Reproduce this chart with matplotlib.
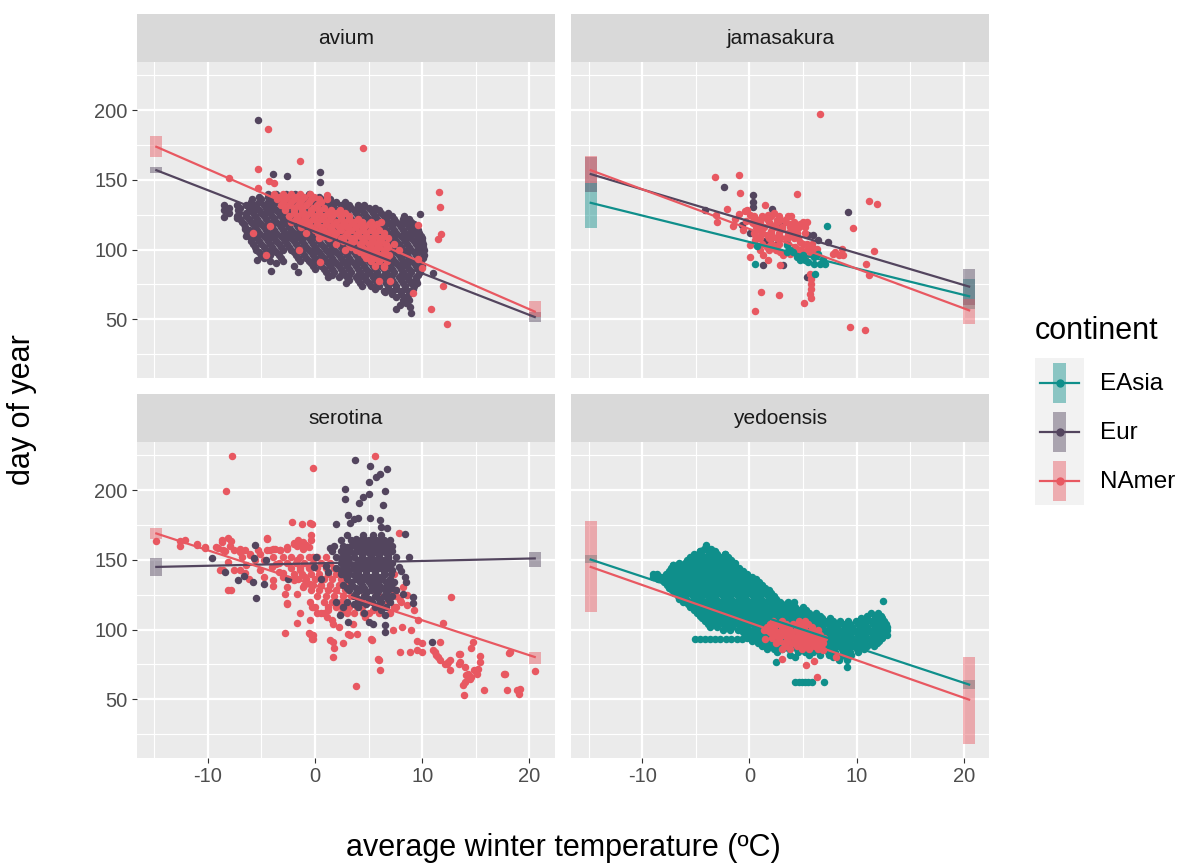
import matplotlib
matplotlib.use("Agg")
import matplotlib.pyplot as plt
from matplotlib.patches import Rectangle

plt.rcParams['font.family'] = ['Liberation Sans', 'DejaVu Sans']
plt.rcParams['axes.unicode_minus'] = False

# ---- datos ----
species = ['avium', 'jamasakura', 'serotina', 'yedoensis']
continents = ['EAsia', 'Eur', 'NAmer']
colors = {'EAsia': '#0f8f8b', 'Eur': '#53455e', 'NAmer': '#e85861'}

x_ticks = [-10, 0, 10, 20]
y_ticks = [50, 100, 150, 200]

# dense parts of the clouds: y -> x values
avium_eur_rows = {
    140: [-4.4, -3.6, -2.7, -1.9, -0.6],
    138: [-5.2, -4.4, -3.6, -2.8, -2.0, -1.2, -0.4, 0.4],
    136: [-5.9, -5.0, -4.2, -3.4, -2.6, -1.8, -1.0, -0.2, 0.6, 1.4],
    134: [-6.0, -5.2, -4.4, -3.6, -2.8, -2.0, -1.2, -0.4, 0.4, 1.2, 2.0, 2.8],
    132: [-8.5, -7.3, -6.4, -5.6, -4.8, -4.0, -3.2, -2.4, -1.6, -0.8, 0.0, 0.8, 1.6, 2.4, 3.2, 4.0, 4.6],
    130: [-8.0, -7.0, -6.2, -5.4, -4.6, -3.8, -3.0, -2.2, -1.4, -0.6, 0.2, 1.0, 1.8, 2.6, 3.4, 4.2, 5.0, 5.6],
    128: [-8.5, -7.2, -6.0, -5.2, -4.4, -3.6, -2.8, -2.0, -1.2, -0.4, 0.4, 1.2, 2.0, 2.8, 3.6, 4.4, 5.2, 6.0],
    126: [-8.0, -7.1, -6.4, -5.8, -5.0, -4.2, -3.4, -2.6, -1.8, -1.0, -0.2, 0.6, 1.4, 2.2, 3.0, 3.8, 4.6, 5.4,
          6.2, 6.8],
    124: [-7.3, -6.4, -5.6, -4.8, -4.0, -3.2, -2.4, -1.6, -0.8, 0.0, 0.8, 1.6, 2.4, 3.2, 4.0, 4.8, 5.6, 6.4, 7.2, 8.3],
    122: [-7.0, -6.2, -5.4, -4.6, -3.8, -3.0, -2.2, -1.4, -0.6, 0.2, 1.0, 1.8, 2.6, 3.4, 4.2, 5.0, 5.8, 6.6, 7.4,
          8.2, 8.8],
    120: [-6.8, -6.0, -5.2, -4.4, -3.6, -2.8, -2.0, -1.2, -0.4, 0.4, 1.2, 2.0, 2.8, 3.6, 4.4, 5.2, 6.0, 6.8, 7.6,
          8.4, 9.0],
    118: [-6.6, -5.8, -5.0, -4.2, -3.4, -2.6, -1.8, -1.0, -0.2, 0.6, 1.4, 2.2, 3.0, 3.8, 4.6, 5.4, 6.2, 7.0, 7.8,
          8.6, 9.2],
    116: [-6.5, -5.6, -4.8, -4.0, -3.2, -2.4, -1.6, -0.8, 0.0, 0.8, 1.6, 2.4, 3.2, 4.0, 4.8, 5.6, 6.4, 7.2, 8.0,
          8.8, 9.4],
    114: [-6.2, -5.4, -4.6, -3.8, -3.0, -2.2, -1.4, -0.6, 0.2, 1.0, 1.8, 2.6, 3.4, 4.2, 5.0, 5.8, 6.6, 7.4, 8.2,
          9.0, 9.6],
    112: [-6.3, -5.2, -4.4, -3.6, -2.8, -2.0, -1.2, -0.4, 0.4, 1.2, 2.0, 2.8, 3.6, 4.4, 5.2, 6.0, 6.8, 7.6, 8.4,
          9.1, 9.7],
    110: [-6.4, -5.6, -4.8, -4.0, -3.2, -2.4, -1.6, -0.8, 0.0, 0.8, 1.6, 2.4, 3.2, 4.0, 4.8, 5.6, 6.4, 7.2, 8.0,
          8.8, 9.6, 9.9],
    108: [-6.0, -5.4, -4.6, -3.8, -3.0, -2.2, -1.4, -0.6, 0.2, 1.0, 1.8, 2.6, 3.4, 4.2, 5.0, 5.8, 6.6, 7.4, 8.2,
          9.0, 9.7, 10.0],
    106: [-6.0, -5.2, -4.4, -3.6, -2.8, -2.0, -1.2, -0.4, 0.4, 1.2, 2.0, 2.8, 3.6, 4.4, 5.2, 6.0, 6.8, 7.6, 8.4,
          9.2, 10.0],
    104: [-5.8, -5.0, -4.2, -3.4, -2.6, -1.8, -1.0, -0.2, 0.6, 1.4, 2.2, 3.0, 3.8, 4.6, 5.4, 6.2, 7.0, 7.8, 8.6,
          9.4, 10.1],
    102: [-5.6, -4.8, -4.0, -3.2, -2.4, -1.6, -0.8, 0.0, 0.8, 1.6, 2.4, 3.2, 4.0, 4.8, 5.6, 6.4, 7.2, 8.0, 8.8,
          9.6, 10.1],
    100: [-5.5, -4.6, -3.8, -3.0, -2.2, -1.4, -0.6, 0.2, 1.0, 1.8, 2.6, 3.4, 4.2, 5.0, 5.8, 6.6, 7.4, 8.2, 9.0,
          9.7, 10.2],
    98: [-5.2, -4.4, -3.6, -2.0, -1.2, -0.4, 0.4, 1.2, 2.0, 2.8, 3.6, 4.4, 5.2, 6.0, 6.8, 7.6, 8.4, 9.2, 10.0],
    96: [-5.0, -4.2, -3.4, -1.8, -1.0, -0.2, 0.6, 1.4, 2.2, 3.0, 3.8, 4.6, 5.4, 6.2, 7.0, 7.8, 8.6, 9.4, 10.2],
    94: [-4.8, -3.2, -1.6, -0.8, 0.0, 0.8, 1.6, 2.4, 3.2, 4.0, 4.8, 5.6, 6.4, 7.2, 8.0, 8.8, 9.6, 10.1],
    92: [-4.2, -3.0, -1.4, -0.6, 0.2, 1.0, 1.8, 2.6, 3.4, 4.2, 5.0, 5.8, 6.6, 7.4, 8.2, 9.0, 9.8],
    90: [-3.6, -0.4, 0.4, 1.2, 2.0, 2.8, 3.6, 4.4, 5.2, 6.0, 6.8, 7.6, 8.4, 9.2, 9.9],
    88: [-2.0, -0.2, 0.6, 1.4, 2.2, 3.0, 3.8, 4.6, 5.4, 6.2, 7.0, 7.8, 8.6, 9.4, 10.0],
    86: [0.0, 0.8, 1.6, 2.4, 3.2, 4.0, 4.8, 5.6, 6.4, 7.2, 8.0, 8.8, 9.6],
    84: [-1.6, 1.0, 1.8, 2.6, 3.4, 4.2, 5.0, 5.8, 6.6, 7.4, 8.2, 9.0, 9.8],
    82: [1.6, 2.4, 3.2, 4.0, 4.8, 5.6, 6.4, 7.2, 8.0, 8.8, 9.6],
    80: [1.2, 2.2, 3.0, 3.8, 4.6, 5.4, 6.2, 7.0, 7.8, 8.6, 9.4],
    78: [3.2, 4.0, 4.8, 5.6, 6.4, 7.2, 8.0, 8.8, 9.4],
    76: [2.9, 4.2, 5.0, 5.8, 6.6, 7.4, 8.2, 9.0, 9.5],
    74: [4.4, 5.2, 6.0, 6.8, 7.6, 8.4, 9.2],
    72: [5.6, 6.8, 7.6, 8.4, 9.1],
    70: [6.4, 7.2, 8.0, 8.8],
    68: [7.2, 8.0, 8.8],
    66: [7.6, 8.4],
    64: [8.2, 8.8],
}
avium_eur_pts = [(-5.35, 192.8), (0.47, 155.7), (0.47, 148.6), (-2.6, 152.6), (-3.9, 154.0), (9.8, 125.8),
                 (11.0, 83.5), (7.6, 57.2), (8.9, 58.9), (9.0, 54.5), (6.5, 69.6), (-4.1, 84.4), (-5.4, 92.3),
                 (8.5, 61.5), (7.9, 60.5), (-8.5, 123.5), (-7.3, 122.5), (-6.5, 114.8)]

avium_namer_rows = {
    140: [-3.8, -3.0, -2.2, -1.4, -0.5],
    138: [-3.4, -2.6, -1.8, -1.0, -0.1],
    136: [-3.5, -2.8, -2.0, -1.2, -0.4, 0.4, 1.1],
    134: [-3.0, -2.2, -1.4, -0.6, 0.6],
    132: [-3.2, -2.4, -1.6, -0.8, 0.2],
    130: [-2.8, -2.0, -1.2, -0.2, 0.8],
    128: [-2.8, -2.0, -1.2, -0.4, 0.4, 1.5, 2.3],
    126: [-2.0, -1.2, -0.4, 0.4, 1.2, 2.0, 2.8],
    124: [-2.4, -1.6, -0.8, 0.0, 0.8, 1.6, 2.4, 3.2],
    122: [-1.8, -1.0, -0.2, 0.6, 1.4, 2.4, 3.2, 4.0],
    120: [-2.2, -1.4, -0.6, 0.2, 1.0, 2.0, 2.8, 3.6, 4.4, 5.2, 6.2],
    118: [-0.8, 0.2, 1.0, 1.8, 2.6, 3.4, 4.2, 5.0, 5.8],
    116: [-1.3, -0.4, 0.6, 1.4, 2.2, 3.0, 3.8, 4.6, 5.4],
    114: [0.0, 0.8, 1.6, 2.4, 3.4, 4.4, 5.2, 6.0],
    112: [-0.8, 0.3, 1.2, 2.0, 3.0, 4.0, 4.8, 5.6, 6.4],
    110: [0.8, 1.8, 2.8, 3.8, 4.8, 5.6, 6.4],
    108: [0.4, 1.3, 2.4, 3.4, 4.4, 5.2, 6.0, 6.8],
    106: [2.6, 3.6, 4.6, 5.4, 6.2],
    104: [2.0, 3.2, 4.2, 5.0, 5.8, 6.6],
    102: [3.4, 4.4, 5.2, 6.0, 6.8],
    100: [-1.5, 2.8, 3.8, 4.8, 5.6, 6.4],
    98: [4.2, 5.0, 5.7, 6.5],
    96: [4.6, 5.3, 6.1, 6.9],
    94: [4.8, 5.6, 6.4],
    92: [5.2, 6.0, 6.7],
    88: [5.6, 6.4],
}
avium_namer_pts = [(-4.35, 186.8), (4.5, 173.0), (-1.4, 163.6), (-5.35, 157.7), (-8.0, 151.4), (-5.35, 143.8),
                   (-4.3, 149.0), (-3.8, 147.8), (1.1, 139.0), (11.6, 141.0), (11.7, 130.6), (11.8, 111.0),
                   (11.5, 107.9), (9.6, 117.5), (9.6, 93.5), (9.95, 86.8), (11.9, 74.0), (10.8, 57.7), (9.1, 68.9),
                   (-4.6, 96.0), (-5.8, 111.5), (-4.2, 116.7), (0.5, 91.0), (6.0, 77.5), (7.0, 77.5), (6.4, 87.6),
                   (12.3, 46.4), (7.4, 104.0), (7.8, 100.0)]

jamasakura_eur_pts = [(-2.4, 145.0), (-4.1, 128.2), (0.37, 139.0), (0.37, 130.6), (2.1, 129.4), (-0.7, 117.4),
                      (1.46, 106.2), (1.3, 88.7), (3.17, 88.7), (5.97, 110.3), (7.37, 105.5), (9.2, 126.8),
                      (5.35, 80.4), (3.0, 117.4), (1.9, 106.7), (2.55, 104.3), (5.5, 110.3), (6.4, 106.7),
                      (0.37, 134.2), (0.06, 111.5)]
jamasakura_namer_rows = {
    124: [0.4, 1.2, 2.0, 2.8, 3.6],
    120: [0.2, 1.0, 1.8, 2.6, 3.4, 4.2, 5.0],
    116: [0.6, 1.4, 2.2, 3.0, 3.8, 4.6],
    112: [0.4, 1.2, 2.0, 2.8, 3.6, 4.4, 5.2],
    108: [1.0, 1.8, 2.6, 3.4, 4.2],
    104: [1.2, 2.0, 2.8, 3.6, 5.0, 5.8],
    100: [1.8, 2.6, 4.6, 5.4, 6.2],
}
jamasakura_namer_pts = [(-3.2, 151.7), (-1.0, 153.8), (-0.9, 140.6), (-3.1, 125.1), (-3.0, 119.8), (-1.5, 116.7),
                        (-1.0, 125.8), (-0.4, 127.7), (0.06, 124.6), (0.53, 122.2), (0.84, 121.0), (0.68, 116.2),
                        (1.15, 123.4), (1.62, 122.2), (1.77, 124.6), (1.93, 118.6), (2.4, 116.2), (2.86, 121.0),
                        (3.33, 121.0), (3.8, 118.6), (4.26, 116.2), (4.73, 118.6), (5.35, 119.8), (5.19, 116.2),
                        (4.4, 111.5), (3.8, 110.3), (3.48, 107.9), (2.86, 109.1), (2.24, 109.1), (1.62, 110.3),
                        (1.15, 111.5), (0.53, 110.3), (0.06, 103.1), (1.62, 101.9), (2.24, 103.1), (2.86, 98.3),
                        (3.17, 95.9), (3.8, 97.1), (4.26, 101.9), (4.73, 105.5), (5.35, 104.3), (5.81, 101.9),
                        (5.04, 98.3), (4.73, 93.5), (5.19, 94.7), (5.66, 98.3), (6.28, 100.7), (5.97, 97.1),
                        (0.06, 94.7), (1.3, 95.9), (1.77, 92.3), (2.86, 88.7), (-0.56, 113.9), (-1.34, 122.2),
                        (-2.1, 129.4), (-0.25, 128.2), (1.46, 131.8), (2.55, 121.0), (4.1, 113.9), (5.5, 100.7),
                        (7.8, 97.1), (8.6, 100.7), (8.77, 95.9), (6.6, 196.9), (4.4, 139.7), (11.2, 134.9),
                        (11.9, 132.5), (9.7, 115.8), (11.6, 98.8), (10.9, 89.5), (11.2, 81.6), (9.4, 44.5),
                        (10.8, 42.6), (1.06, 69.6), (2.8, 67.7), (0.5, 56.0), (5.1, 61.7), (5.7, 82.8),
                        (5.72, 79.0), (5.75, 75.4), (5.72, 71.8), (5.7, 68.2), (5.75, 65.0), (8.0, 98.3),
                        (8.4, 96.0), (0.3, 119.0), (1.0, 114.0), (2.0, 113.5), (3.0, 114.5), (3.5, 104.5),
                        (4.5, 108.0), (2.5, 100.0), (1.0, 99.5), (0.5, 106.5), (-0.3, 120.5), (3.9, 124.0),
                        (2.3, 126.5)]
jamasakura_easia_pts = [(7.2, 116.7), (0.68, 102.4), (0.53, 89.9), (3.48, 103.1), (3.8, 99.5), (4.4, 94.7),
                        (5.2, 92.3), (6.0, 94.7), (6.4, 97.1), (6.9, 93.5), (7.06, 89.5), (6.1, 82.8), (5.5, 91.1),
                        (4.7, 92.3), (4.1, 98.3), (6.6, 89.9), (6.0, 89.9), (5.0, 95.9), (3.5, 98.3)]

serotina_eur_rows = {
    168: [3.0, 4.5, 5.4, 6.2],
    165: [3.8, 4.6, 5.4, 6.2],
    164: [2.4, 3.4, 4.3, 5.0, 5.7, 6.4, 7.0],
    163: [3.8, 4.8, 5.6, 6.4],
    162: [4.6, 5.4, 6.2, 6.9],
    160: [1.8, 2.6, 3.4, 4.2, 5.0, 5.8, 6.6, 7.2],
    159: [3.0, 3.8, 4.8, 5.6, 6.4, 7.0],
    158: [4.4, 5.2, 6.0, 6.8],
    156: [1.6, 2.4, 3.2, 4.0, 4.8, 5.6, 6.4, 7.2],
    155: [2.8, 3.6, 5.0, 5.8, 6.6],
    154: [4.4, 5.2, 6.0, 6.8],
    152: [2.0, 2.8, 3.6, 4.4, 5.2, 6.0, 6.8, 7.6],
    151: [2.4, 3.2, 4.4, 5.2, 6.0, 6.8],
    150: [4.0, 4.8, 5.6, 6.4],
    148: [2.4, 3.2, 4.0, 4.8, 5.6, 6.4, 7.2],
    147: [2.8, 4.0, 4.8, 5.6, 6.4, 7.0],
    146: [3.6, 4.4, 5.2, 6.0, 6.8],
    144: [2.0, 2.8, 3.6, 4.4, 5.2, 6.0, 6.8],
    143: [2.4, 3.2, 4.8, 5.6, 6.4, 7.2],
    142: [4.0, 4.8, 5.6, 6.4],
    140: [2.4, 3.2, 4.0, 4.8, 5.6, 6.4, 7.1],
    139: [2.8, 3.6, 4.8, 5.6, 6.4],
    138: [4.4, 5.2, 6.0],
    136: [3.0, 3.8, 4.6, 5.4, 6.2, 7.0],
    134: [3.4, 4.2, 5.0, 5.8, 6.6, 7.4],
    132: [2.6, 3.5, 4.4, 5.2, 6.0, 6.8],
    130: [3.0, 3.8, 4.6, 5.6, 6.4, 7.2],
    128: [3.2, 4.2, 5.2, 6.0, 6.8],
    126: [3.8, 4.8, 5.8, 6.6],
    124: [3.6, 4.6, 5.6, 6.4, 7.2],
    122: [4.0, 5.0, 6.0, 6.8],
    120: [3.0, 4.3, 5.3, 6.2, 7.0],
    118: [3.6, 4.8, 6.0],
    116: [4.0, 5.6, 6.6],
}
serotina_eur_pts = [(3.7, 221.5), (5.1, 217.2), (6.1, 211.5), (6.7, 215.1), (5.7, 209.6), (5.0, 205.5),
                    (2.8, 200.5), (2.8, 193.3), (6.5, 199.3), (4.1, 191.1), (4.5, 195.2), (5.0, 196.9),
                    (6.3, 189.2), (3.1, 182.5), (2.0, 176.0), (3.3, 176.5), (3.6, 179.0), (4.0, 180.1),
                    (5.1, 179.7), (6.1, 178.5), (6.2, 173.7), (6.7, 172.5), (8.4, 168.4), (8.8, 152.1),
                    (2.3, 110.3), (3.1, 105.5), (5.0, 105.5), (5.4, 104.3), (6.5, 110.3), (6.5, 103.1),
                    (6.5, 98.3), (9.1, 123.4), (9.1, 118.7), (8.4, 137.8), (8.5, 134.2), (8.2, 125.8),
                    (10.9, 91.1), (-9.6, 151.4), (-5.6, 160.5), (-5.7, 151.4), (-4.6, 150.2), (-8.4, 141.4),
                    (-7.2, 135.4), (-6.6, 138.2), (-5.8, 134.2), (-4.8, 132.3), (-5.5, 122.7), (-2.5, 136.3),
                    (-0.1, 144.9), (0.1, 152.0), (1.0, 145.5), (1.2, 141.0), (0.6, 136.0), (1.4, 158.5),
                    (2.0, 120.0), (2.6, 116.0), (4.6, 112.0), (6.2, 114.0), (7.6, 128.0), (7.8, 145.0),
                    (8.0, 142.0)]

serotina_namer_rows = {
    152: [-3.0, -2.2, -1.4, -0.6, 0.2, 1.0],
    148: [-3.4, -2.6, -1.8, -1.0, -0.2, 0.6, 1.4],
    144: [-2.2, -1.4, -0.6, 0.2, 1.0, 1.8],
    140: [-2.0, -1.2, -0.4, 0.4, 1.2, 2.0],
    136: [-1.6, -0.8, 0.0, 0.8, 1.6, 2.4],
    132: [-1.0, -0.2, 0.6, 1.4, 2.2, 3.0],
    128: [-0.4, 0.4, 1.2, 2.0, 2.8, 4.0, 5.6, 7.2],
    124: [0.2, 1.0, 1.8, 2.6, 3.4, 4.6, 6.0, 7.6],
    120: [-0.5, 0.8, 1.6, 2.4, 4.8, 6.8, 8.0],
    116: [0.0, 1.2, 2.0, 3.2, 4.4, 5.8, 7.4],
    112: [-1.4, 0.8, 2.4, 3.6, 5.0, 6.0],
}
serotina_namer_pts = [
    (-14.8, 163.4), (-12.6, 160.0), (-12.1, 164.1), (-11.0, 161.7), (-10.3, 158.8), (-9.0, 158.8), (-8.7, 162.9),
    (-8.1, 165.3), (-7.8, 163.4), (-8.4, 156.4), (-8.3, 199.3), (-7.7, 224.4), (-8.1, 148.5), (-8.6, 142.5),
    (-8.1, 128.2), (-7.8, 128.2), (-7.0, 158.1), (-6.8, 152.1), (-6.4, 146.1), (-6.1, 154.5), (-5.3, 156.9),
    (-4.8, 149.7), (-4.5, 165.3), (-3.7, 157.4), (-3.3, 156.9), (-2.6, 157.4), (-2.0, 162.2), (-1.7, 159.8),
    (-1.2, 161.7), (-1.1, 158.1), (-0.8, 160.5), (-0.4, 164.1), (-0.3, 176.0), (-0.4, 167.7), (-0.2, 215.5),
    (-2.1, 177.2), (-3.9, 152.1), (-4.0, 145.0), (-3.4, 141.4), (-3.0, 137.8), (-3.9, 131.1), (-2.8, 125.3),
    (-2.6, 118.2), (-3.6, 147.3), (-5.1, 142.5), (-6.2, 136.6), (-7.0, 142.5), (-7.6, 142.5), (-1.7, 149.7),
    (-1.4, 142.5), (-0.9, 137.8), (-0.6, 145.0), (-0.2, 152.1), (-12.6, 163.6), (-11.0, 160.5), (-10.3, 159.3),
    (-9.2, 158.9), (-8.7, 164.1), (-8.6, 156.9), (-7.9, 159.8), (-7.6, 156.9), (-7.0, 155.7), (-6.5, 156.9),
    (-6.1, 153.3), (-5.6, 149.8), (-5.1, 154.5), (-4.5, 156.9), (-3.9, 158.1), (-3.3, 156.9), (-2.6, 159.3),
    (-2.0, 161.7), (-1.6, 164.1), (-1.1, 162.9), (-0.6, 159.3), (-8.9, 142.6), (-6.5, 140.2), (-4.8, 137.8),
    (-3.9, 135.4), (-3.0, 140.2), (-2.6, 130.6), (-2.0, 135.4), (-1.7, 125.8), (-1.1, 130.6), (-0.5, 133.0),
    (-0.3, 116.3), (-2.6, 118.7), (-1.7, 104.8), (-2.8, 97.6), (-0.2, 95.9), (-0.3, 93.5), (-0.6, 97.6),
    (-4.5, 164.6), (-4.2, 156.9), (1.4, 92.3), (2.2, 101.9), (3.1, 96.7), (2.6, 90.4), (5.2, 93.5), (5.9, 79.2),
    (6.1, 71.3), (3.8, 59.3), (1.6, 106.7), (0.6, 111.5), (1.2, 113.9), (2.0, 117.5), (3.0, 113.9), (3.9, 116.3),
    (4.5, 111.5), (-0.16, 116.3), (0.16, 111.5), (-0.47, 106.7), (1.09, 109.1), (1.71, 104.3), (2.49, 116.3),
    (2.95, 111.5), (3.58, 104.3), (3.89, 97.1), (4.66, 109.1), (5.44, 113.9), (6.2, 116.3), (7.0, 111.5),
    (7.6, 116.3), (7.9, 121.0), (8.6, 117.5), (9.2, 113.9), (9.6, 106.7), (9.0, 99.5), (8.1, 101.9), (7.3, 99.5),
    (-0.5, 97.1), (-0.2, 93.5), (1.7, 91.1), (3.3, 95.9), (1.8, 86.4), (1.7, 80.4), (5.3, 92.8), (6.0, 78.5),
    (5.6, 224.4), (-0.5, 176.1), (7.8, 168.9), (7.6, 128.2), (8.2, 130.6), (-1.2, 176.0), (7.4, 140.0),
    (8.6, 125.0), (12.7, 123.4), (11.9, 105.0), (11.7, 91.1), (10.0, 90.4), (9.5, 91.8), (7.9, 84.0),
    (8.9, 84.0), (9.5, 85.2), (10.0, 84.0), (11.2, 84.0), (11.3, 81.6), (11.7, 78.0), (12.3, 75.6), (12.6, 78.0),
    (13.5, 82.8), (13.4, 75.6), (14.0, 73.2), (14.3, 68.4), (14.6, 66.0), (14.8, 70.8), (15.2, 72.0),
    (14.0, 62.4), (15.4, 76.8), (14.7, 91.1), (14.6, 86.4), (18.1, 83.2), (17.6, 67.9), (17.9, 56.5),
    (18.8, 56.5), (19.0, 54.1), (20.5, 70.3), (15.8, 56.9), (13.9, 53.4), (12.4, 76.8), (15.4, 80.9),
    (13.8, 60.0), (19.1, 57.0), (17.7, 68.4), (18.2, 84.0), (11.0, 85.0), (11.5, 80.4), (12.1, 75.6),
    (12.6, 70.8), (13.5, 76.8), (14.1, 67.2), (14.5, 64.8), (15.1, 68.4), (13.4, 82.8)]

yedoensis_easia_rows = {
    158: [-4.2, -3.6],
    156: [-4.6, -3.9, -3.2],
    154: [-5.2, -4.5, -3.8, -3.0, -2.3],
    152: [-5.5, -4.8, -4.1, -3.4, -2.7, -2.0],
    150: [-5.8, -5.1, -4.4, -3.7, -3.0, -2.3, -1.7],
    148: [-6.6, -6.0, -5.3, -4.6, -3.9, -3.2, -2.5, -1.8, -1.3],
    146: [-7.1, -6.3, -5.6, -4.9, -4.2, -3.5, -2.8, -2.1, -1.4],
    144: [-7.3, -6.6, -5.9, -5.2, -4.5, -3.8, -3.1, -2.4, -1.7, -1.0],
    142: [-7.5, -6.8, -6.1, -5.4, -4.7, -4.0, -3.3, -2.6, -1.9, -1.2, -0.6],
    140: [-8.6, -7.8, -7.1, -6.4, -5.7, -5.0, -4.3, -3.6, -2.9, -2.2, -1.5, -0.8, -0.2],
    138: [-9.0, -8.2, -7.5, -6.8, -6.1, -5.4, -4.7, -4.0, -3.3, -2.6, -1.9, -1.2, -0.5, 0.2],
    136: [-8.5, -7.8, -7.1, -6.4, -5.7, -5.0, -4.3, -3.6, -2.9, -2.2, -1.5, -0.8, -0.1, 0.6],
    134: [-8.0, -7.3, -6.6, -5.9, -5.2, -4.5, -3.8, -3.1, -2.4, -1.7, -1.0, -0.3, 0.4, 0.9],
    132: [-7.7, -7.0, -6.3, -5.6, -4.9, -4.2, -3.5, -2.8, -2.1, -1.4, -0.7, 0.0, 0.7, 1.2],
    130: [-7.5, -6.8, -6.1, -5.4, -4.7, -4.0, -3.3, -2.6, -1.9, -1.2, -0.5, 0.2, 0.9, 1.5],
    128: [-7.2, -6.5, -5.8, -5.1, -4.4, -3.7, -3.0, -2.3, -1.6, -0.9, -0.2, 0.5, 1.2, 1.8],
    126: [-7.0, -6.3, -5.6, -4.9, -4.2, -3.5, -2.8, -2.1, -1.4, -0.7, 0.0, 0.7, 1.4, 2.0],
    124: [-6.7, -6.0, -5.3, -4.6, -3.9, -3.2, -2.5, -1.8, -1.1, -0.4, 0.3, 1.0, 1.7, 2.3],
    122: [-6.6, -5.9, -5.2, -4.5, -3.8, -3.1, -2.4, -1.7, -1.0, -0.3, 0.4, 1.1, 1.8, 2.5],
    120: [-6.2, -5.5, -4.8, -4.1, -3.4, -2.7, -2.0, -1.3, -0.6, 0.1, 0.8, 1.5, 2.2, 2.9, 3.6, 4.2],
    118: [-5.7, -5.0, -4.3, -3.6, -2.9, -2.2, -1.5, -0.8, -0.1, 0.6, 1.3, 2.0, 2.7, 3.4, 4.1],
    116: [-5.5, -4.8, -4.1, -3.4, -2.7, -2.0, -1.3, -0.6, 0.1, 0.8, 1.5, 2.2, 2.9, 3.6, 4.3, 5.0],
    114: [-5.2, -4.5, -3.8, -3.1, -2.4, -1.7, -1.0, -0.3, 0.4, 1.1, 1.8, 2.5, 3.2, 3.9, 4.6, 5.3],
    112: [-4.9, -4.2, -3.5, -2.8, -2.1, -1.4, -0.7, 0.0, 0.7, 1.4, 2.1, 2.8, 3.5, 4.2, 4.9, 5.6, 6.2,
          11.3, 12.0],
    110: [-4.6, -3.9, -3.2, -2.5, -1.8, -1.1, -0.4, 0.3, 1.0, 1.7, 2.4, 3.1, 3.8, 4.5, 5.2, 5.9, 6.6,
          11.0, 11.7, 12.3],
    108: [-4.4, -3.7, -3.0, -2.3, -1.6, -0.9, -0.2, 0.5, 1.2, 1.9, 2.6, 3.3, 4.0, 4.7, 5.4, 6.1, 6.8, 7.5,
          10.4, 11.0, 11.7, 12.4],
    106: [-4.1, -3.4, -2.7, -2.0, -1.3, -0.6, 0.1, 0.8, 1.5, 2.2, 2.9, 3.6, 4.3, 5.0, 5.7, 6.4, 7.1, 7.8, 8.5,
          9.2, 9.9, 10.6, 11.3, 12.0, 12.6],
    104: [-3.9, -3.2, -2.5, -1.8, -1.1, -0.4, 0.3, 1.0, 1.7, 2.4, 3.1, 3.8, 4.5, 5.2, 5.9, 6.6, 7.3, 8.0, 8.7,
          9.4, 10.1, 10.8, 11.5, 12.2, 12.7],
    102: [-3.7, -3.0, -2.3, -1.6, -0.9, -0.2, 0.5, 1.2, 1.9, 2.6, 3.3, 4.0, 4.7, 5.4, 6.1, 6.8, 7.5, 8.2, 8.9,
          9.6, 10.3, 11.0, 11.7, 12.4, 12.8],
    100: [-2.5, -1.8, -1.1, -0.4, 0.3, 1.0, 1.7, 2.4, 3.1, 3.8, 4.5, 5.2, 5.9, 6.6, 7.3, 8.0, 8.7, 9.4, 10.1,
          10.8, 11.5, 12.2, 12.8],
    98: [-0.6, 0.1, 0.8, 1.5, 2.2, 2.9, 3.6, 4.3, 5.0, 5.7, 6.4, 7.1, 7.8, 8.5, 9.2, 9.9, 10.6, 11.3, 12.0, 12.7],
    96: [-0.4, 0.3, 1.0, 1.7, 2.4, 3.1, 3.8, 4.5, 5.2, 5.9, 6.6, 7.3, 8.0, 8.7, 9.4, 10.1, 10.8, 11.5, 12.2, 12.8],
    94: [-0.2, 0.5, 1.2, 1.9, 2.6, 3.3, 4.0, 4.7, 5.4, 6.1, 6.8, 7.5, 8.2, 8.9, 9.6, 10.3, 11.0, 11.7, 12.4],
    93: [-5.1, -4.6, -4.1, -3.7, -3.2, -2.7, -2.2, -1.7, -1.2, -0.7],
    92: [0.2, 0.9, 1.6, 2.3, 3.0, 3.7, 4.4, 5.1, 5.8, 6.5, 7.2, 7.9, 8.6, 9.3, 10.0, 10.7, 11.4, 12.1],
    90: [0.8, 1.5, 2.2, 2.9, 3.6, 4.3, 5.0, 5.7, 6.4, 7.1, 7.8, 8.5, 9.2, 9.9, 10.6, 11.3, 11.9],
    88: [1.2, 1.9, 2.6, 3.3, 4.0, 4.7, 5.4, 6.1, 6.8, 7.5, 8.2, 8.9, 9.6, 10.3, 11.0, 11.6],
    86: [1.6, 2.3, 3.0, 3.7, 4.4, 5.1, 5.8, 6.5, 7.2, 7.9, 8.6, 9.3, 10.0, 10.7],
    84: [2.6, 4.5, 5.2, 5.9, 6.6, 7.3, 8.0, 8.7, 9.4, 10.1],
    82: [3.8, 5.6, 6.6, 7.4, 8.1, 8.8, 9.5],
    80: [7.8, 8.5, 9.2],
    78: [8.4, 9.1],
    62.5: [4.3, 4.6, 4.9, 5.2, 5.5, 5.8, 7.0],
}
yedoensis_easia_pts = [(2.5, 76.8), (4.3, 80.4), (9.1, 73.2), (-9.0, 139.5), (-8.0, 135.9), (-7.1, 146.2),
                       (-4.6, 156.5), (-4.0, 160.5), (-2.3, 154.1), (12.5, 120.3), (1.6, 87.6)]

yedoensis_namer_rows = {
    106: [2.2, 3.0, 4.6, 5.2],
    104: [1.9, 2.6, 3.4, 4.1, 4.8, 5.5],
    102: [1.6, 2.3, 3.0, 3.7, 4.4, 5.1, 5.8],
    100: [1.6, 2.3, 3.0, 3.7, 4.4, 5.1, 5.8, 6.4],
    98: [1.9, 2.6, 3.3, 4.0, 4.7, 5.4, 6.1],
    96: [2.4, 3.1, 3.8, 4.5, 5.2, 5.9, 6.6],
    94: [2.1, 2.8, 3.5, 4.2, 4.9, 5.6, 6.3, 7.0],
    92: [2.8, 3.6, 4.4, 5.2, 5.9, 6.6],
    90: [2.5, 3.2, 4.0, 4.8, 5.5, 6.2, 6.9],
    88: [3.4, 4.4, 5.2, 6.0, 6.7],
    86: [3.0, 3.8, 4.9, 5.6, 6.4],
}
yedoensis_namer_pts = [(3.0, 79.2), (5.3, 74.4), (6.0, 77.3), (6.3, 66.0), (8.1, 80.4), (6.9, 85.2),
                       (1.4, 100.0), (1.5, 93.0)]

# fitted lines at the two ends of the temperature range, and the intervals there
fit_x = [-14.8, 20.5]
avium_fit = {'Eur': [156.9, 51.6], 'NAmer': [173.7, 55.5]}
jamasakura_fit = {'EAsia': [133.5, 66.5], 'Eur': [154.1, 73.4], 'NAmer': [156.9, 56.4]}
serotina_fit = {'Eur': [144.9, 151.0], 'NAmer': [168.9, 80.3]}
yedoensis_fit = {'EAsia': [150.2, 60.5], 'NAmer': [144.9, 49.7]}

avium_int = {'Eur': [(154.6, 159.3), (48.3, 55.5)], 'NAmer': [(166.3, 181.3), (51.8, 63.1)]}
jamasakura_int = {'EAsia': [(115.5, 147.4), (57.0, 79.0)], 'Eur': [(141.4, 166.6), (60.0, 85.9)],
                  'NAmer': [(147.4, 167.0), (46.9, 64.8)]}
serotina_int = {'Eur': [(138.3, 151.0), (144.9, 155.7)], 'NAmer': [(164.6, 172.5), (75.6, 84.0)]}
yedoensis_int = {'EAsia': [(147.4, 153.3), (57.7, 63.6)], 'NAmer': [(112.6, 178.0), (18.2, 80.3)]}


def cloud(rows, pts):
    xs, ys = [], []
    for y, xl in rows.items():
        xs += xl
        ys += [y] * len(xl)
    xs += [p[0] for p in pts]
    ys += [p[1] for p in pts]
    return xs, ys


panels = {
    'avium': ([('Eur', avium_eur_rows, avium_eur_pts), ('NAmer', avium_namer_rows, avium_namer_pts)],
              avium_fit, avium_int),
    'jamasakura': ([('Eur', {}, jamasakura_eur_pts), ('NAmer', jamasakura_namer_rows, jamasakura_namer_pts),
                    ('EAsia', {}, jamasakura_easia_pts)], jamasakura_fit, jamasakura_int),
    'serotina': ([('NAmer', serotina_namer_rows, serotina_namer_pts), ('Eur', serotina_eur_rows, serotina_eur_pts)],
                 serotina_fit, serotina_int),
    'yedoensis': ([('EAsia', yedoensis_easia_rows, yedoensis_easia_pts),
                   ('NAmer', yedoensis_namer_rows, yedoensis_namer_pts)], yedoensis_fit, yedoensis_int),
}

# ---- figura ----
W, H = 1179, 865
fig = plt.figure(figsize=(W / 100, H / 100), dpi=100)


def box(x, y, w, h):
    return [x / W, 1 - (y + h) / H, w / W, h / H]


panel_x = [136.7, 571.1]
panel_y = [62, 442]
pw, ph, sh = 418.3, 316, 48

for i, sp in enumerate(species):
    r, c = divmod(i, 2)
    ax = fig.add_axes(box(panel_x[c], panel_y[r], pw, ph))
    st = fig.add_axes(box(panel_x[c], panel_y[r] - sh, pw, sh))
    st.set_facecolor('#d9d9d9')
    st.set_xticks([])
    st.set_yticks([])
    for s in st.spines.values():
        s.set_visible(False)
    st.text(0.5, 0.5, sp, ha='center', va='center', fontsize=15, color='#1a1a1a', transform=st.transAxes)

    groups, fit, ints = panels[sp]
    for cont, rows, pts in groups:
        xs, ys = cloud(rows, pts)
        ax.scatter(xs, ys, s=29, color=colors[cont], linewidths=0, zorder=2)
    for cont in continents:
        if cont in ints:
            for xv, (lo, hi) in zip(fit_x, ints[cont]):
                ax.bar(xv, hi - lo, bottom=lo, width=1.15, color=colors[cont], alpha=0.45, linewidth=0, zorder=3)
    for cont in continents:
        if cont in fit:
            ax.plot(fit_x, fit[cont], color=colors[cont], lw=1.6, zorder=4)

    ax.set_xlim(-16.63, 22.39)
    ax.set_ylim(7.86, 234.5)
    ax.set_facecolor('#ebebeb')
    for s in ax.spines.values():
        s.set_visible(False)
    ax.set_xticks(x_ticks)
    ax.set_xticks([-15, -5, 5, 15], minor=True)
    ax.set_yticks(y_ticks)
    ax.set_yticks([25, 75, 125, 175, 225], minor=True)
    ax.grid(which='major', color='white', lw=1.6)
    ax.grid(which='minor', color='white', lw=0.8)
    ax.set_axisbelow(True)
    ax.tick_params(which='minor', length=0)
    ax.tick_params(which='major', length=3.6, width=0.8, color='#333333', labelcolor='#4d4d4d',
                   labelsize=14.5, pad=3)
    if r == 0:
        ax.tick_params(axis='x', length=0, labelbottom=False)
    if c == 1:
        ax.tick_params(axis='y', length=0, labelleft=False)

fig.text(563 / W, 1 - 848 / H, 'average winter temperature (ºC)', ha='center', va='center', fontsize=22)
fig.text(22 / W, 1 - 410 / H, 'day of year', ha='center', va='center', rotation=90, fontsize=22)

# legend
fig.text(1035 / W, 1 - 339 / H, 'continent', ha='left', va='baseline', fontsize=22)
lg = fig.add_axes(box(1035, 358, 49, 147))
lg.set_xlim(0, 1)
lg.set_ylim(3, 0)
lg.axis('off')
for k, cont in enumerate(continents):
    lg.add_patch(Rectangle((0, k), 1, 1, facecolor='#f2f2f2', edgecolor='none'))
    lg.add_patch(Rectangle((0.37, k + 0.11), 0.26, 0.8, facecolor=colors[cont], alpha=0.45, edgecolor='none'))
    lg.plot([0.1, 0.9], [k + 0.5, k + 0.5], color=colors[cont], lw=1.6)
    lg.plot([0.5], [k + 0.5], 'o', color=colors[cont], ms=5)
    fig.text(1100 / W, 1 - (384 + 49 * k) / H, cont, ha='left', va='center', fontsize=17.5)

fig.savefig('out.png', dpi=100)
